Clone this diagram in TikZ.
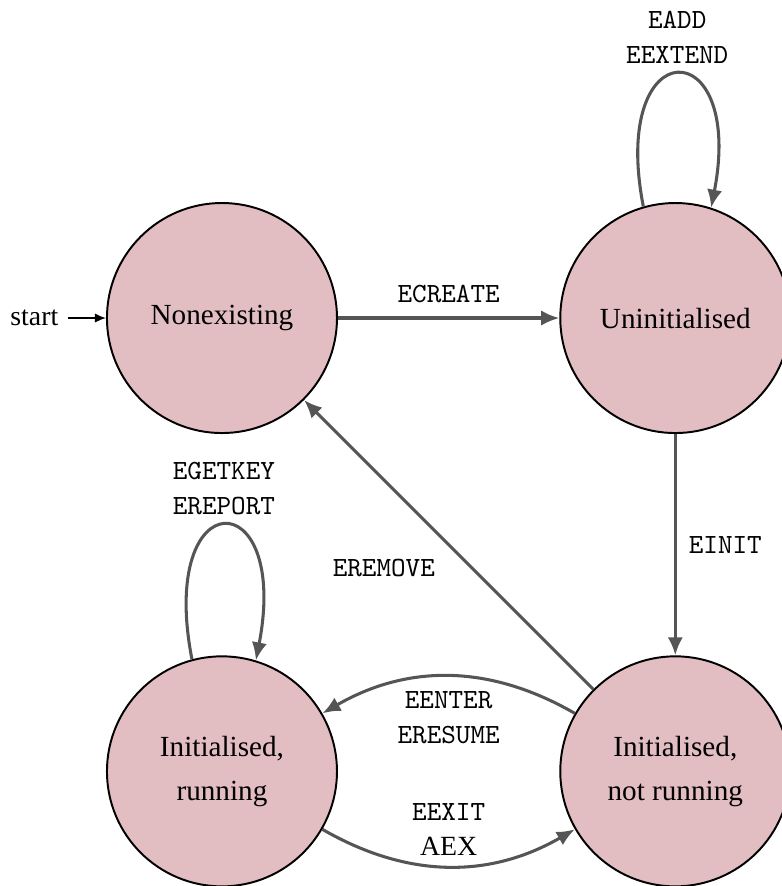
\documentclass[tikz,border=0pt]{standalone}
\usepackage{fontspec}
\setmainfont{Liberation Serif}
\usetikzlibrary{positioning,arrows.meta}
\definecolor{statepink}{HTML}{E2BDC2}
\definecolor{transgray}{HTML}{555555}
\tikzset{
  encstate/.style={circle, draw=black, line width=0.7pt, fill=statepink,
    minimum size=2.91cm, inner sep=0pt, align=center,
    font=\fontsize{10.5pt}{15.8pt}\selectfont},
  trans/.style={draw=transgray, line width=1.1pt,
    -{Latex[length=6.5pt,width=5.5pt]}},
  tlabel/.style={font=\ttfamily\fontsize{10pt}{12.6pt}\selectfont,
    align=center, text=black},
}
\begin{document}
\begin{tikzpicture}
  \useasboundingbox (-2.808,4.023) rectangle (7.084,-7.185);
  % states
  \node[encstate] (nonex) at (0,0) {Nonexisting};
  \node[encstate, right=2.8cm of nonex] (uninit) {Uninitialised};
  \node[encstate, below=2.8cm of uninit] (notrun) {Initialised,\\not running};
  \node[encstate, below=2.8cm of nonex] (running) {Initialised,\\running};
  \node[left=0.48cm of nonex.west] (start) {start};
  \draw[-{Latex[length=4pt,width=3.4pt]}, line width=0.6pt] (start) -- (nonex);
  % transitions
  \draw[trans] (nonex) -- node[tlabel, above=1.5pt] {ECREATE} (uninit);
  \draw[trans] (uninit) -- node[tlabel, right=1pt] {EINIT} (notrun);
  \draw[trans] (notrun) -- node[tlabel, pos=0.42, left=0.33cm] {EREMOVE} (nonex);
  \draw[trans] (notrun) to[bend right=30]
    node[tlabel, below=1.5pt] {EENTER\\ERESUME} (running);
  \draw[trans] (running) to[bend right=30]
    node[tlabel, above] {EEXIT\\{\rmfamily AEX}} (notrun);
  % self loops
  \draw[trans] (uninit.106) to[out=101, in=79, looseness=6.8]
    node[tlabel, above] {EADD\\EEXTEND} (uninit.72);
  \draw[trans] (running.105) to[out=101, in=79, looseness=7.3]
    node[tlabel, above] {EGETKEY\\EREPORT} (running.73);
\end{tikzpicture}
\end{document}
